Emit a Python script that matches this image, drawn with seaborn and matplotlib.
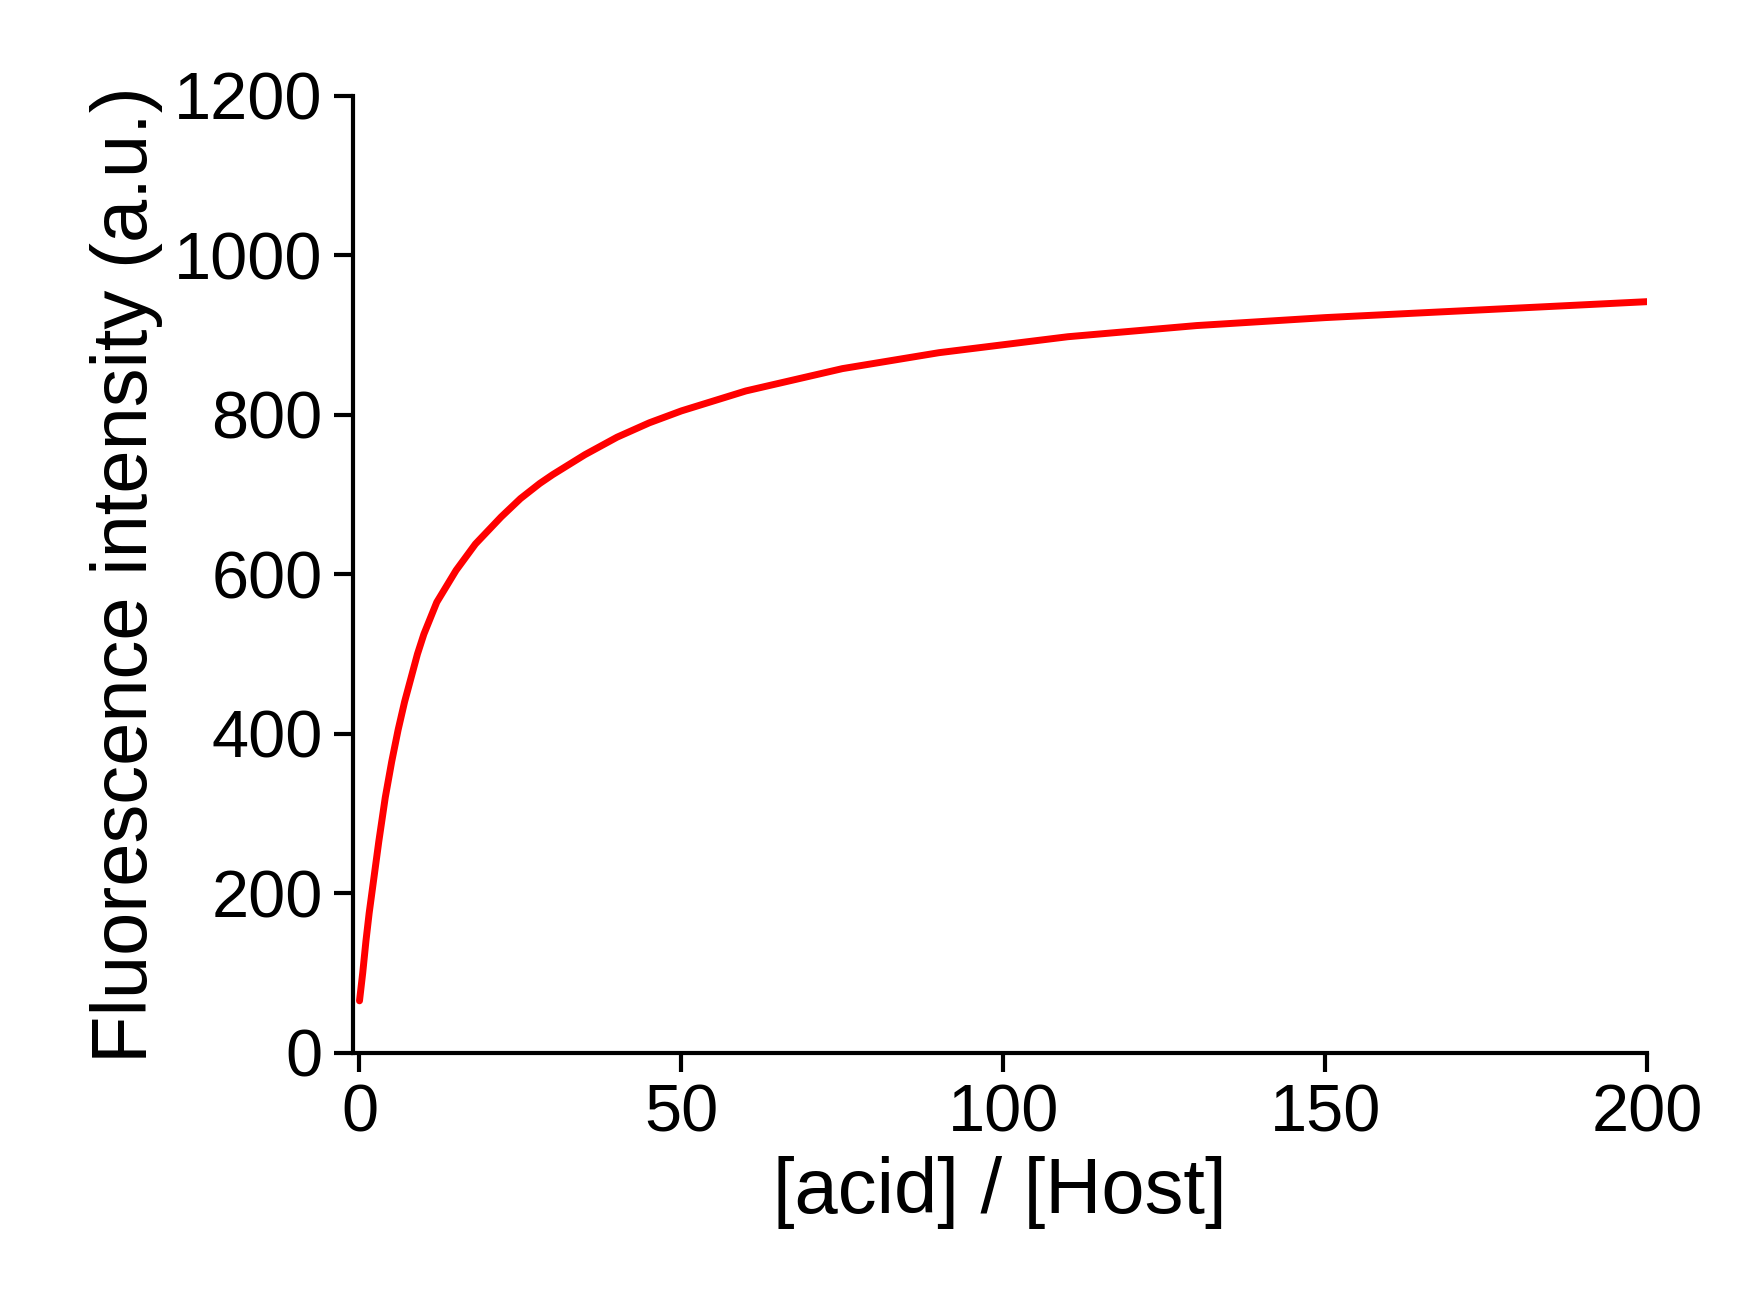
import numpy as np
import pandas as pd
import seaborn as sns
from matplotlib import pyplot as plt

ratio = [0, 0.5, 1, 1.5, 2, 3, 4, 5, 6, 7, 8, 9, 10, 12, 15, 18, 20, 22, 25, 28, 30, 35, 40, 45, 50, 60, 75, 90, 110, 130, 150, 175, 200]
intensity = [65, 100, 140, 175, 205, 265, 320, 365, 405, 440, 470, 500, 525, 565, 605, 638, 655, 672, 695, 714, 725, 750, 772, 790, 805, 830, 858, 878, 898, 912, 922, 932, 942]

sns.set_style('ticks')
plt.rcParams['font.family'] = ['Liberation Sans', 'DejaVu Sans']

df = pd.DataFrame({'ratio': ratio, 'intensity': intensity})

fig = plt.figure(figsize=(17.6, 13.02), dpi=100)
ax = fig.add_axes([0.2006, 0.1915, 0.7354, 0.7348])
sns.lineplot(data=df, x='ratio', y='intensity', color='#ff0000', linewidth=5, ax=ax)

ax.set_xlim(-1, 200)
ax.set_ylim(0, 1200)
ax.set_xticks([0, 50, 100, 150, 200])
ax.set_yticks(range(0, 1201, 200))
ax.set_xlabel('[acid] / [Host]', fontsize=56, labelpad=8, color='black')
ax.set_ylabel('Fluorescence intensity (a.u.)', fontsize=56, labelpad=8, color='black')
ax.tick_params(labelsize=48, width=3, length=14, direction='out', pad=8,
               colors='black')
for s in ['top', 'right']:
    ax.spines[s].set_visible(False)
for s in ['left', 'bottom']:
    ax.spines[s].set_linewidth(3)
    ax.spines[s].set_color('black')

fig.savefig('out.png', dpi=100)
